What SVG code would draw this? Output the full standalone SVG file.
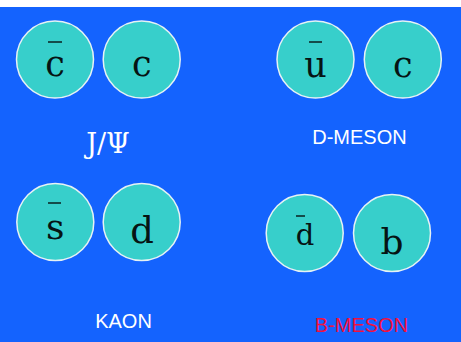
<svg xmlns="http://www.w3.org/2000/svg" width="461" height="342" viewBox="0 0 461 342">
<style>
.q{fill:#37CFCB;stroke:#E6F2F4;stroke-width:1.5}
.t{font-family:"DejaVu Serif","Liberation Serif",serif;fill:#061414;text-anchor:middle}
.bar{stroke:#061414;stroke-width:1.4}
.l{font-family:"Liberation Sans","DejaVu Sans",sans-serif;font-size:20px;fill:#ffffff;text-anchor:middle}
</style>
<rect x="0" y="0" width="461" height="342" fill="#ffffff"/>
<rect x="0" y="7" width="461" height="335" fill="#1463FE"/>
<g id="jpsi">
<circle class="q" cx="55" cy="59.5" r="38.5"/>
<text class="t" x="55" y="76" font-size="35">c</text>
<line class="bar" x1="48" y1="42" x2="62" y2="42"/>
<circle class="q" cx="141.7" cy="59.5" r="38.5"/>
<text class="t" x="141.7" y="76" font-size="35">c</text>
<text x="108" y="153" font-family="DejaVu Serif, serif" font-size="27" fill="#fff" text-anchor="middle">J/Ψ</text>
</g>
<g id="dmeson">
<circle class="q" cx="315.5" cy="59.5" r="38.5"/>
<text class="t" x="315.5" y="77" font-size="35">u</text>
<line class="bar" x1="309" y1="42" x2="322" y2="42"/>
<circle class="q" cx="402.8" cy="59.5" r="38.5"/>
<text class="t" x="402.8" y="77" font-size="35">c</text>
<text class="l" x="359.5" y="144">D-MESON</text>
</g>
<g id="kaon">
<circle class="q" cx="55.3" cy="222" r="38.5"/>
<text class="t" x="55.3" y="239" font-size="36">s</text>
<line class="bar" x1="48" y1="203" x2="61" y2="203"/>
<circle class="q" cx="141.7" cy="222" r="38.5"/>
<text class="t" x="142" y="243" font-size="37">d</text>
<text class="l" x="123.5" y="328">KAON</text>
</g>
<g id="bmeson">
<circle class="q" cx="304.7" cy="233" r="38.5"/>
<text class="t" x="305" y="245" font-size="29">d</text>
<line class="bar" x1="296" y1="216" x2="305" y2="216"/>
<circle class="q" cx="392" cy="233" r="38.5"/>
<text class="t" x="392" y="254" font-size="36">b</text>
<text class="l" x="361.5" y="332" style="fill:#F2103F">B-MESON</text>
</g>
<g id="connectors"/>
</svg>
